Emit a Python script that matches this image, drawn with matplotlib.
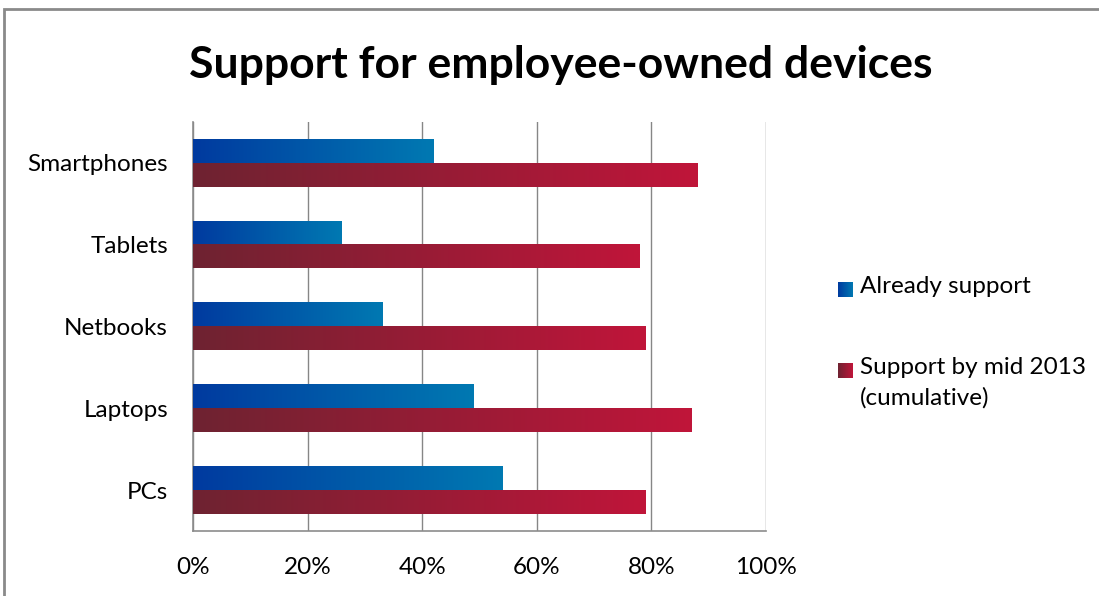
import matplotlib
matplotlib.use("Agg")
import matplotlib.pyplot as plt
import numpy as np
from matplotlib.colors import LinearSegmentedColormap
from matplotlib.patches import Rectangle

categories = ["PCs", "Laptops", "Netbooks", "Tablets", "Smartphones"]
already_support = [54, 49, 33, 26, 42]
support_mid_2013 = [79, 87, 79, 78, 88]
series_names = ["Already support", "Support by mid 2013\n(cumulative)"]
x_ticks = [0, 20, 40, 60, 80, 100]

plt.rcParams['font.family'] = ['Lato', 'DejaVu Sans']

blue_cmap = LinearSegmentedColormap.from_list("blue", ["#003a9f", "#0079b2"])
red_cmap = LinearSegmentedColormap.from_list("red", ["#6e2331", "#c0153a"])
grad = np.linspace(0, 1, 256).reshape(1, -1)


def fill_gradient(ax, bars, cmap):
    for bar in bars:
        x0, y0 = bar.get_x(), bar.get_y()
        w, h = bar.get_width(), bar.get_height()
        ax.imshow(grad, cmap=cmap, aspect='auto', extent=(x0, x0 + w, y0, y0 + h),
                  origin='lower', zorder=3, interpolation='bilinear')


fig = plt.figure(figsize=(10.99, 5.96), dpi=100)
ax = fig.add_axes([193 / 1099, 65 / 596, 573 / 1099, 409 / 596])

y = np.arange(len(categories))
h = 0.29
bars_blue = ax.barh(y + h / 2, already_support, height=h, color='none', zorder=3)
bars_red = ax.barh(y - h / 2, support_mid_2013, height=h, color='none', zorder=3)
fill_gradient(ax, bars_blue, blue_cmap)
fill_gradient(ax, bars_red, red_cmap)

ax.set_xlim(0, 100)
ax.set_ylim(-0.5, len(categories) - 0.5)
ax.set_xticks(x_ticks)
ax.set_xticklabels([f"{t}%" for t in x_ticks], fontsize=17.5)
ax.set_yticks(y)
ax.set_yticklabels(categories, fontsize=17.5)
ax.tick_params(axis='x', length=0, pad=19)
ax.tick_params(axis='y', length=0, pad=18)
ax.xaxis.grid(True, color='#868686', linewidth=1.0, zorder=0)
ax.set_axisbelow(True)
for s in ['top', 'right']:
    ax.spines[s].set_visible(False)
for s in ['left', 'bottom']:
    ax.spines[s].set_color('#8c8c8c')
    ax.spines[s].set_linewidth(1.2)

fig.text(561 / 1099, 1 - 65 / 596, "Support for employee-owned devices", ha='center', va='center',
         fontsize=32, fontweight='bold')

# legend drawn by hand so the square sits on the first text line
legend_y = [289, 370]
cmaps = [blue_cmap, red_cmap]
for name, ly, cm in zip(series_names, legend_y, cmaps):
    sq = fig.add_axes([838 / 1099, 1 - (ly + 8) / 596, 15 / 1099, 15 / 596])
    sq.imshow(grad, cmap=cm, aspect='auto', interpolation='bilinear')
    sq.axis('off')
    fig.text(860 / 1099, 1 - (ly - 13) / 596, name, ha='left', va='top', fontsize=17.5,
             linespacing=1.5)

fig.patches.append(Rectangle((4 / 1099, -0.05), 1.1, 1 - 9 / 596 + 0.05, transform=fig.transFigure,
                             fill=False, edgecolor='#8a8a8a', linewidth=2))

fig.savefig("out.png", dpi=100)
